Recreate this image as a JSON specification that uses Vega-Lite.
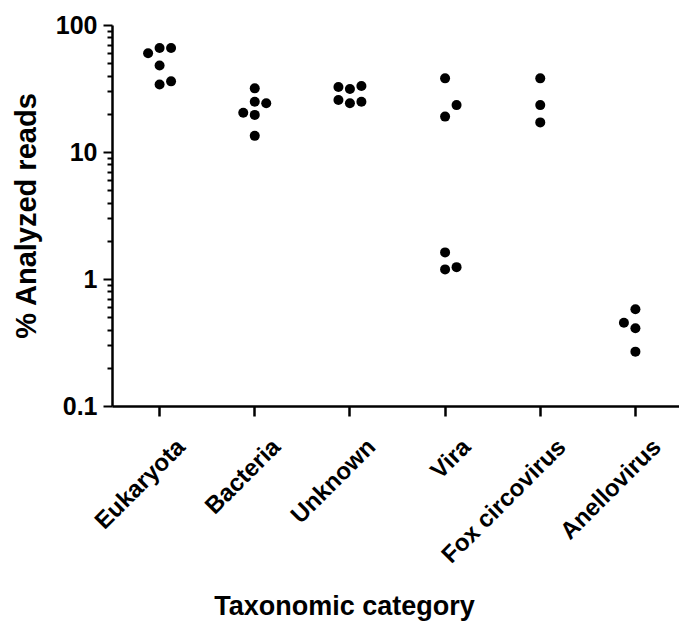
{
  "$schema": "https://vega.github.io/schema/vega-lite/v6.json",
  "width": 571,
  "height": 381,
  "autosize": {"type": "none"},
  "padding": {"left": 112, "top": 25, "right": 0, "bottom": 226},
  "background": "white",
  "config": {"view": {"stroke": null}, "font": "Liberation Sans"},
  "data": {"values": [
    {"category": "Eukaryota", "percent": 60, "slot": -1},
    {"category": "Eukaryota", "percent": 66, "slot": 0},
    {"category": "Eukaryota", "percent": 66, "slot": 1},
    {"category": "Eukaryota", "percent": 48, "slot": 0},
    {"category": "Eukaryota", "percent": 34, "slot": 0},
    {"category": "Eukaryota", "percent": 36, "slot": 1},
    {"category": "Bacteria", "percent": 31.7, "slot": 0},
    {"category": "Bacteria", "percent": 24.9, "slot": 0},
    {"category": "Bacteria", "percent": 24.2, "slot": 1},
    {"category": "Bacteria", "percent": 20.4, "slot": -1},
    {"category": "Bacteria", "percent": 19.6, "slot": 0},
    {"category": "Bacteria", "percent": 13.4, "slot": 0},
    {"category": "Unknown", "percent": 32.5, "slot": -1},
    {"category": "Unknown", "percent": 31.3, "slot": 0},
    {"category": "Unknown", "percent": 33.1, "slot": 1},
    {"category": "Unknown", "percent": 25.7, "slot": -1},
    {"category": "Unknown", "percent": 24.2, "slot": 0},
    {"category": "Unknown", "percent": 24.9, "slot": 1},
    {"category": "Vira", "percent": 38, "slot": 0},
    {"category": "Vira", "percent": 23.4, "slot": 1},
    {"category": "Vira", "percent": 19, "slot": 0},
    {"category": "Vira", "percent": 1.62, "slot": 0},
    {"category": "Vira", "percent": 1.19, "slot": 0},
    {"category": "Vira", "percent": 1.24, "slot": 1},
    {"category": "Fox circovirus", "percent": 38, "slot": 0},
    {"category": "Fox circovirus", "percent": 23.4, "slot": 0},
    {"category": "Fox circovirus", "percent": 17.1, "slot": 0},
    {"category": "Anellovirus", "percent": 0.577, "slot": 0},
    {"category": "Anellovirus", "percent": 0.453, "slot": -1},
    {"category": "Anellovirus", "percent": 0.409, "slot": 0},
    {"category": "Anellovirus", "percent": 0.268, "slot": 0}
  ]},
  "mark": {"type": "circle", "size": 100, "color": "black", "opacity": 1},
  "encoding": {
    "x": {
      "field": "category", "type": "nominal",
      "sort": ["Eukaryota", "Bacteria", "Unknown", "Vira", "Fox circovirus", "Anellovirus"],
      "scale": {"paddingInner": 0, "paddingOuter": 0},
      "axis": {
        "title": "Taxonomic category",
        "titleFontSize": 27, "titleFontWeight": "bold", "titleColor": "black",
        "titleX": 232, "titleY": 208, "titleBaseline": "alphabetic", "titleAnchor": "middle", "titleAlign": "center",
        "domainColor": "black", "domainWidth": 2.5,
        "tickColor": "black", "tickWidth": 2.5, "tickSize": 10,
        "labelAngle": -45, "labelAlign": "right", "labelBaseline": "middle",
        "labelFontSize": 24, "labelFontWeight": "bold", "labelColor": "black",
        "labelPadding": 27, "labelOffset": 22, "grid": false
      }
    },
    "xOffset": {"field": "slot", "type": "quantitative", "scale": {"domain": [-4.14, 4.14]}},
    "y": {
      "field": "percent", "type": "quantitative",
      "scale": {"type": "log", "domain": [0.1, 100]},
      "axis": {
        "title": "% Analyzed reads",
        "titleFontSize": 29, "titleFontWeight": "bold", "titleColor": "black", "titlePadding": 14,
        "values": [0.1, 0.2, 0.3, 0.4, 0.5, 0.6, 0.7, 0.8, 0.9, 1, 2, 3, 4, 5, 6, 7, 8, 9, 10, 20, 30, 40, 50, 60, 70, 80, 90, 100],
        "format": "~g",
        "labelExpr": "indexof([0.1, 1, 10, 100], datum.value) >= 0 ? datum.label : ''",
        "labelFontSize": 25, "labelFontWeight": "bold", "labelColor": "black", "labelPadding": 6,
        "domainColor": "black", "domainWidth": 2.5,
        "tickColor": "black", "tickWidth": 2,
        "tickSize": {"condition": {"test": "indexof([0.1, 1, 10, 100], datum.value) >= 0", "value": 9}, "value": 5},
        "grid": false
      }
    }
  }
}
